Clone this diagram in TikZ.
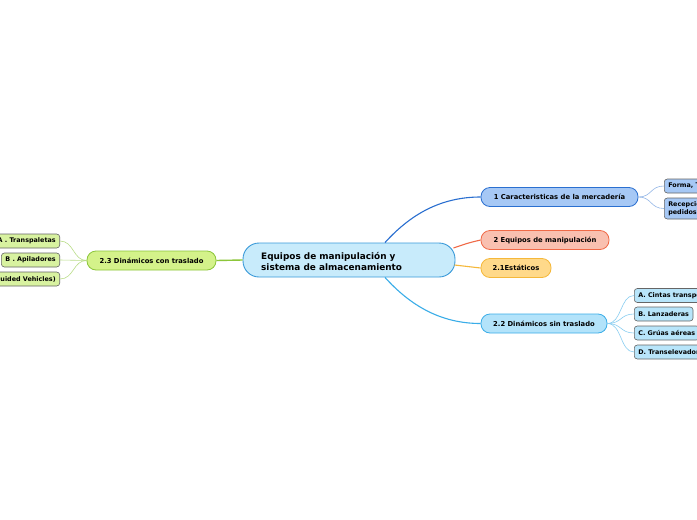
\documentclass[tikz,border=0pt]{standalone}
\usepackage{fontspec}
\setmainfont{DejaVu Sans}
\begin{document}
\begin{tikzpicture}[x=1pt,y=-1pt,
  base/.style={draw, line width=0.8pt, inner sep=0pt, font=\bfseries\fontsize{6.8}{8}\selectfont, text=black},
  mainbr/.style={base, rounded corners=9pt, minimum height=19pt},
  leaf/.style={base, rounded corners=3pt, minimum height=14pt, draw=gray!80!black, line width=0.6pt, font=\bfseries\fontsize{6.4}{7.8}\selectfont},
  conn/.style={line width=1.1pt},
  sub/.style={line width=0.6pt}]
\definecolor{cfill}{HTML}{C8EBFB}\definecolor{cdraw}{HTML}{3A9AD9}
\definecolor{afill}{HTML}{A6C8F5}\definecolor{adraw}{HTML}{2A6FD0}
\definecolor{bfill}{HTML}{F9C0B0}\definecolor{bdraw}{HTML}{F06A48}
\definecolor{dfill}{HTML}{FFD98A}\definecolor{ddraw}{HTML}{F5B83A}
\definecolor{efill}{HTML}{B3E3FA}\definecolor{edraw}{HTML}{3AADE8}
\definecolor{gfill}{HTML}{D4F28A}\definecolor{gdraw}{HTML}{8CC63A}
\definecolor{lgfill}{HTML}{D8F2A0}
\definecolor{lefill}{HTML}{B8E5FA}
\path[use as bounding box, fill=white] (0,0) rectangle (697,520);
\begin{scope}
\clip (0,0) rectangle (697,520);
% central
\node[draw=cdraw, fill=cfill, line width=0.9pt, rounded corners=16pt, minimum width=212pt, minimum height=34pt, inner sep=0pt] (c) at (349,260) {};
\node[anchor=west, align=left, inner sep=0pt, font=\bfseries\fontsize{8.9}{11}\selectfont] (ct) at (261,261) {Equipos de manipulación y\\sistema de almacenamiento};
% main branches
\node[mainbr, draw=adraw, fill=afill, minimum width=157pt] (n1) at (559.5,197) {1 Caracteristicas de la mercadería};
\node[mainbr, draw=bdraw, fill=bfill, minimum width=128pt] (n2) at (545,240) {2 Equipos de manipulación};
\node[mainbr, draw=ddraw, fill=dfill, minimum width=70pt] (n21) at (516,268) {2.1Estáticos};
\node[mainbr, draw=edraw, fill=efill, minimum width=126pt] (n22) at (544,323.5) {2.2 Dinámicos sin traslado};
\node[mainbr, draw=gdraw, fill=gfill, minimum width=129pt] (n23) at (151.5,260.5) {2.3 Dinámicos con traslado};
% leaves of 1
\node[leaf, fill=afill, anchor=west, minimum width=60pt, inner xsep=4pt] (a1) at (664,186) {Forma, Tamaño y Peso};
\node[leaf, fill=afill, anchor=west, minimum height=21pt, inner xsep=4pt, align=left] (a2) at (664,208.5) {Recepción de\\pedidos};
% leaves of 2.2
\node[leaf, fill=lefill, anchor=west, inner xsep=4pt] (e1) at (634,295.5) {A. Cintas transportadoras};
\node[leaf, fill=lefill, anchor=west, inner xsep=4pt] (e2) at (634,314) {B. Lanzaderas};
\node[leaf, fill=lefill, anchor=west, inner xsep=4pt] (e3) at (634,333) {C. Grúas aéreas};
\node[leaf, fill=lefill, anchor=west, inner xsep=4pt] (e4) at (634,352) {D. Transelevadores};
% leaves of 2.3
\node[leaf, fill=lgfill, anchor=east, inner xsep=4pt] (g1) at (60,241) {A . Transpaletas};
\node[leaf, fill=lgfill, anchor=east, inner xsep=4pt] (g2) at (60,260) {B . Apiladores};
\node[leaf, fill=lgfill, anchor=east, inner xsep=4pt] (g3) at (60,279) {C . AGV (Automated Guided Vehicles)};
% connectors
\draw[conn, draw=adraw] ([xshift=36pt]c.north) .. controls (410,215) and (440,197) .. (n1.west);
\draw[conn, draw=bdraw] ([xshift=-2pt,yshift=12pt]c.east) .. controls (468,243) .. (n2.west);
\draw[conn, draw=ddraw] ([xshift=-1pt,yshift=-5pt]c.east) .. controls (468,266) .. (n21.west);
\draw[conn, draw=edraw] ([xshift=36pt]c.south) .. controls (410,305) and (440,323.5) .. (n22.west);
\draw[conn, draw=gdraw, line width=1.4pt] (c.west) -- (n23.east);
\draw[sub, draw=adraw!50] (n1.east) .. controls (652,197) and (650,186) .. (a1.west);
\draw[sub, draw=adraw!50] (n1.east) .. controls (652,197) and (650,208.5) .. (a2.west);
\draw[sub, draw=edraw!60] (n22.east) .. controls (622,323.5) and (620,295.5) .. (e1.west);
\draw[sub, draw=edraw!60] (n22.east) .. controls (622,323.5) and (620,314) .. (e2.west);
\draw[sub, draw=edraw!60] (n22.east) .. controls (622,323.5) and (620,333) .. (e3.west);
\draw[sub, draw=edraw!60] (n22.east) .. controls (622,323.5) and (620,352) .. (e4.west);
\draw[sub, draw=gdraw!60] (n23.west) .. controls (73,260.5) and (74,241) .. (g1.east);
\draw[sub, draw=gdraw!60] (n23.west) .. controls (73,260.5) and (74,260) .. (g2.east);
\draw[sub, draw=gdraw!60] (n23.west) .. controls (73,260.5) and (74,279) .. (g3.east);
\end{scope}
\end{tikzpicture}
\end{document}
